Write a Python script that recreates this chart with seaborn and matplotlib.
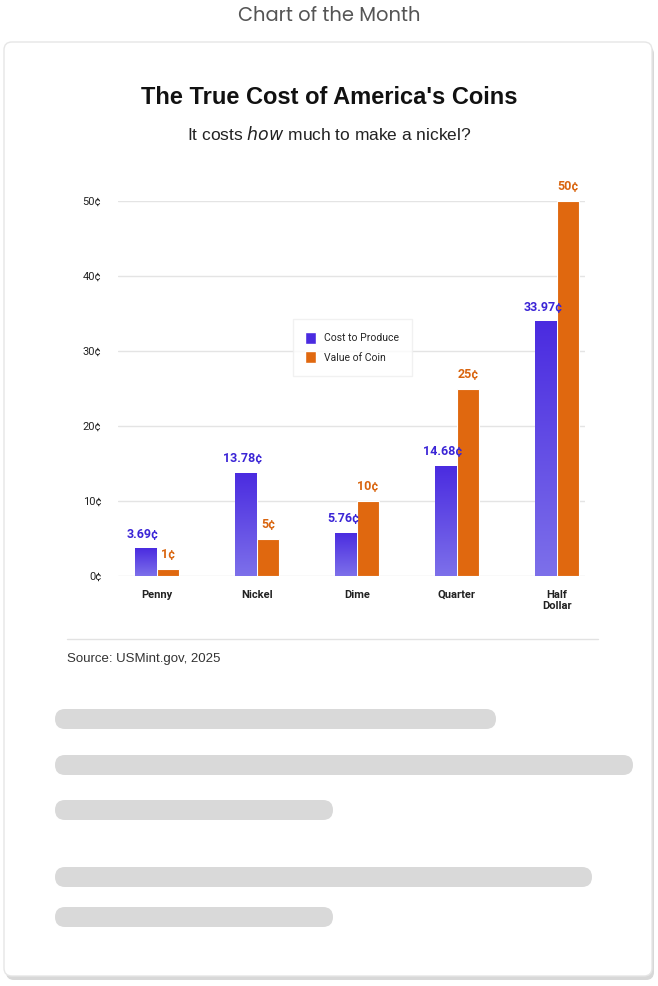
import matplotlib
matplotlib.use("Agg")
import matplotlib.pyplot as plt
import seaborn as sns
import pandas as pd
import numpy as np
from matplotlib.patches import FancyBboxPatch, Patch

coins = ["Penny", "Nickel", "Dime", "Quarter", "Half\nDollar"]
cost = [3.69, 13.78, 5.76, 14.68, 33.97]
value = [1, 5, 10, 25, 50]
series = ["Cost to Produce", "Value of Coin"]
yticks = [0, 10, 20, 30, 40, 50]
skeleton_rows = [(719, 496), (765, 633), (810, 333), (877, 592), (917, 333)]

BLUE_TOP, BLUE_BOT = "#4a2be0", "#7d70ea"
ORANGE = "#e0680f"

df = pd.DataFrame({"coin": coins * 2, "cents": cost + value,
                   "series": [series[0]] * 5 + [series[1]] * 5})

sns.set_theme(style="white")
plt.rcParams["font.family"] = ["Roboto", "DejaVu Sans"]

W, H = 658, 986
fig = plt.figure(figsize=(W / 100, H / 100), dpi=100)
fig.patch.set_facecolor("white")

bg = fig.add_axes([0, 0, 1, 1], zorder=-5)
bg.set_xlim(0, W); bg.set_ylim(H, 0); bg.axis("off")
bg.add_patch(FancyBboxPatch((6, 46), 648, 934, boxstyle="round,pad=0,rounding_size=8",
                            fc="#d8d8d8", ec="none"))
bg.add_patch(FancyBboxPatch((4, 42), 648, 934, boxstyle="round,pad=0,rounding_size=8",
                            fc="white", ec="#e6e6e6", lw=1))
bg.text(W / 2, 16, "Chart of the Month", ha="center", va="center", fontsize=14,
        color="#555555", family=["Poppins", "Lato", "DejaVu Sans"])
bg.text(W / 2, 98, "The True Cost of America's Coins", ha="center", va="center",
        fontsize=17, weight="bold", color="#111111", family=["Liberation Sans"])
bg.text(W / 2, 134, "It costs $\\it{how}$ much to make a nickel?", ha="center", va="center",
        fontsize=12.5, color="#222222", family=["Liberation Sans"])
bg.plot([67, 598], [639, 639], color="#e2e2e2", lw=1)
bg.text(67, 659, "Source: USMint.gov, 2025", ha="left", va="center", fontsize=9.5,
        color="#333333", family=["Liberation Sans"])
for y, xr in skeleton_rows:
    bg.add_patch(FancyBboxPatch((55, y - 10), xr - 55, 20,
                                boxstyle="round,pad=0,rounding_size=10", fc="#d9d9d9", ec="none"))

ax = fig.add_axes([118 / W, 1 - 576 / H, 467 / W, 375 / H])
sns.barplot(data=df, x="coin", y="cents", hue="series", palette=[BLUE_TOP, ORANGE],
            width=0.44, ax=ax, legend=False, saturation=1, edgecolor="white", linewidth=0.8)
ax.set_xlim(-0.39, 4.28)
ax.set_ylim(0, 50)
ax.set_yticks(yticks)
ax.set_yticklabels([f"{t}¢" for t in yticks], fontsize=8, color="#222222")
ax.tick_params(axis="y", length=0, pad=12)
ax.tick_params(axis="x", length=0, pad=10, labelsize=8)
for lab in ax.get_xticklabels():
    lab.set_fontweight("bold"); lab.set_color("#222222")
ax.set_xlabel(""); ax.set_ylabel("")
ax.grid(axis="y", color="#e4e4e4", lw=1)
ax.set_axisbelow(True)
for s in ax.spines.values():
    s.set_visible(False)

grad = np.linspace(0, 1, 256).reshape(-1, 1)
cmap = matplotlib.colors.LinearSegmentedColormap.from_list("g", [BLUE_BOT, BLUE_TOP])
patches = list(ax.patches)
for i, p in enumerate(patches[:5]):
    x0, w, h = p.get_x(), p.get_width(), p.get_height()
    im = ax.imshow(grad, cmap=cmap, origin="lower", aspect="auto",
                   extent=[x0, x0 + w, 0, h], zorder=p.get_zorder() + 0.1)
    im.set_clip_path(p)
    ax.text(x0 + w / 2 - 0.03, h + 1.0, f"{cost[i]:.2f}¢", ha="center", va="bottom",
            fontsize=9, weight="bold", color="#3b25d6", zorder=5)
ax.set_xlim(-0.39, 4.28); ax.set_ylim(0, 50)
for i, p in enumerate(patches[5:10]):
    x0, w, h = p.get_x(), p.get_width(), p.get_height()
    ax.text(x0 + w / 2, h + 1.0, f"{value[i]}¢", ha="center", va="bottom",
            fontsize=9, weight="bold", color="#d9650f", zorder=5, clip_on=False)

handles = [Patch(facecolor=BLUE_TOP, label=series[0]), Patch(facecolor=ORANGE, label=series[1])]
leg = ax.legend(handles=handles, loc="upper left", bbox_to_anchor=(0.37, 0.69), fontsize=7.5,
                frameon=True, handlelength=1.0, handleheight=1.4, borderpad=0.9, labelspacing=0.7)
leg.get_frame().set_edgecolor("#eeeeee")
leg.get_frame().set_boxstyle("square")

fig.savefig("out.png", dpi=100)
